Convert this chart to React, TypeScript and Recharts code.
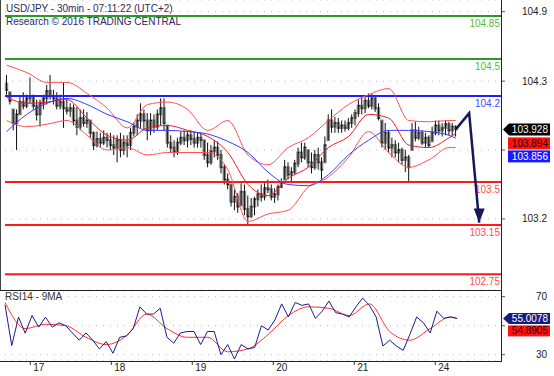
import React from 'react';
import { ComposedChart, Bar, Line, XAxis, YAxis, CartesianGrid, ReferenceLine } from 'recharts';

const FONT = '"Liberation Sans", Arial, sans-serif';

// ---------- data ----------
const highs = [104.37,104.23,104.09,104.09,104.19,104.23,104.21,104.35,104.21,104.17,
104.17,104.21,104.29,104.37,104.25,104.23,104.21,104.31,104.17,104.14,
104.13,104.11,104.09,104.09,104.07,104.00,103.91,103.91,103.90,103.92,
103.90,103.90,103.88,103.88,103.90,103.88,103.88,103.94,103.98,104.05,
104.14,104.09,104.06,104.06,104.05,104.09,104.18,104.18,103.96,103.88,
103.84,103.86,103.91,103.92,103.91,103.92,103.91,103.90,103.90,103.84,
103.82,103.80,103.84,103.83,103.76,103.64,103.57,103.48,103.44,103.41,
103.49,103.48,103.39,103.37,103.38,103.44,103.48,103.49,103.52,103.48,
103.45,103.48,103.53,103.68,103.66,103.62,103.68,103.78,103.82,103.82,
103.76,103.74,103.76,103.78,103.70,103.87,104.05,104.09,104.03,104.02,
104.00,104.00,104.02,104.05,104.09,104.17,104.19,104.19,104.22,104.22,
104.19,104.14,104.00,103.98,103.92,103.86,103.84,103.82,103.78,103.76,
103.72,103.98,103.99,103.95,103.92,103.90,103.88,103.95,104.00,104.00,
103.98,104.00,103.99,103.98,103.96];

const lows = [104.21,104.13,103.92,103.76,104.05,104.09,104.10,104.14,104.09,104.00,
103.95,104.09,104.13,104.17,104.13,104.09,104.09,103.94,104.05,104.03,
103.96,103.88,103.92,103.95,103.94,103.86,103.76,103.78,103.78,103.80,
103.78,103.76,103.72,103.66,103.70,103.72,103.70,103.76,103.87,103.88,
103.94,103.92,103.84,103.88,103.90,103.92,103.96,103.92,103.78,103.74,
103.70,103.72,103.80,103.80,103.78,103.80,103.78,103.78,103.78,103.68,
103.62,103.64,103.70,103.68,103.57,103.48,103.44,103.30,103.27,103.25,
103.31,103.23,103.15,103.21,103.23,103.30,103.34,103.35,103.41,103.35,
103.33,103.35,103.45,103.52,103.52,103.49,103.56,103.62,103.66,103.68,
103.62,103.57,103.60,103.60,103.52,103.66,103.84,103.90,103.90,103.90,
103.90,103.91,103.92,103.94,103.96,104.03,104.05,104.06,104.10,104.09,
104.07,104.00,103.78,103.76,103.74,103.70,103.70,103.66,103.64,103.58,
103.50,103.76,103.83,103.84,103.80,103.78,103.78,103.83,103.88,103.88,
103.87,103.88,103.88,103.88,103.87];

const opens = [104.30,104.23,104.09,103.98,104.05,104.15,104.12,104.18,104.20,104.12,
104.05,104.14,104.18,104.24,104.20,104.18,104.12,104.15,104.10,104.08,
104.10,104.00,103.95,104.02,103.98,104.00,103.90,103.80,103.85,103.82,
103.86,103.84,103.80,103.78,103.84,103.76,103.82,103.80,103.90,103.95,
104.00,104.05,104.00,103.92,104.00,103.95,104.05,104.10,103.96,103.82,
103.78,103.75,103.82,103.86,103.84,103.88,103.85,103.82,103.86,103.84,
103.72,103.66,103.75,103.78,103.72,103.62,103.52,103.48,103.34,103.38,
103.31,103.42,103.28,103.22,103.30,103.36,103.40,103.38,103.45,103.44,
103.38,103.40,103.46,103.52,103.62,103.56,103.58,103.65,103.74,103.70,
103.76,103.66,103.62,103.72,103.66,103.66,103.84,104.00,103.95,103.98,
103.94,103.96,103.94,103.98,104.02,104.06,104.12,104.10,104.16,104.12,
104.18,104.10,104.00,103.82,103.90,103.78,103.80,103.74,103.76,103.68,
103.70,103.76,103.92,103.86,103.90,103.82,103.86,103.83,103.90,103.96,
103.92,103.94,103.97,103.92,103.95];

const closes = [104.25,104.16,103.98,104.05,104.15,104.12,104.18,104.20,104.12,104.05,
104.14,104.18,104.24,104.20,104.18,104.12,104.15,104.10,104.08,104.10,
104.00,103.95,104.02,103.98,104.00,103.90,103.80,103.85,103.82,103.86,
103.84,103.80,103.78,103.84,103.76,103.82,103.80,103.90,103.95,104.00,
104.05,104.00,103.92,104.00,103.95,104.05,104.10,103.98,103.82,103.78,
103.75,103.82,103.86,103.84,103.88,103.85,103.82,103.86,103.84,103.72,
103.66,103.75,103.78,103.72,103.62,103.52,103.48,103.34,103.38,103.30,
103.42,103.28,103.22,103.30,103.36,103.40,103.38,103.45,103.44,103.38,
103.40,103.46,103.50,103.62,103.56,103.58,103.65,103.74,103.70,103.78,
103.66,103.62,103.72,103.66,103.60,103.80,104.00,103.95,103.98,103.94,
103.96,103.94,103.98,104.02,104.06,104.12,104.10,104.16,104.12,104.18,
104.10,104.02,103.82,103.90,103.78,103.80,103.74,103.76,103.68,103.70,
103.62,103.92,103.86,103.90,103.82,103.86,103.80,103.90,103.96,103.92,
103.94,103.97,103.92,103.95,103.928];

const bandIndex = [0,6,12,18,24,30,36,42,48,54,60,66,72,78,84,90,96,102,108,114,120,126,132,134];
const bbUpper = [104.45,104.39,104.31,104.31,104.22,104.10,103.94,104.13,104.15,104.09,103.92,104.00,103.72,103.64,103.78,103.86,104.00,104.13,104.21,104.26,104.00,103.99,104.00,104.00];
const bbMiddle = [104.19,104.14,104.15,104.17,104.02,103.88,103.84,103.94,103.96,103.92,103.87,103.74,103.48,103.39,103.53,103.62,103.78,103.87,104.05,104.02,103.80,103.78,103.86,103.894];
const bbLower = [104.00,103.95,103.97,104.00,103.88,103.76,103.78,103.72,103.74,103.74,103.74,103.60,103.18,103.24,103.27,103.46,103.54,103.70,103.91,103.74,103.62,103.68,103.78,103.78];
const longMA = [103.91,104.05,104.14,104.18,104.13,104.05,103.99,103.92,103.92,103.91,103.89,103.83,103.74,103.58,103.48,103.47,103.56,103.72,103.84,103.92,103.92,103.91,103.88,103.856];

const rsi = [64.4,36.3,55.9,44.8,57,49,55.9,49,52,50,
45,40,45,40,34,39,31,42,43,48,
63,58,58,62,42,38,45,46,46,37,
46,46,30,37,27,37,34,35,50,47,
54,65,56,66,64,65,55,60,67,59,
58,56,63,69,64,56,36,40,36,33,
44,56,52,45,60,55,56,55.0078];
const rsiMA = [66,48,51,50,42,37,43,58,48,42,42,32,34,44,57,63,62,57,65,46,40,48,56,54.8905];

const arrowIndex = [134, 138, 141];
const arrowPath = [103.928, 104.06, 103.17];

const resistanceLevels = [104.85, 104.5];
const pivotLevel = 104.2;
const supportLevels = [103.5, 103.15, 102.75];

const dayStartIndex = [8, 32, 56, 80, 104, 128];
const dayLabels = ['17', '18', '19', '20', '21', '24'];

const priceTicks = [104.885, 104.32, 103.76, 103.2];
const priceTickLabels = ['104.9', '104.3', '', '103.2'];
const rsiTicks = [30, 50, 70];
const rsiTickLabels = ['30', '', '70'];

const lastPrice = 103.928;
const lastMid = 103.894;
const lastMA = 103.856;
const lastRSI = 55.0078;
const lastRSIMA = 54.8905;

// ---------- table ----------
const SLOTS = 148;
const data: any[] = [];
for (let i = 0; i < SLOTS; i++) data.push({ i });
closes.forEach((c, k) => {
  data[k].range = [lows[k], highs[k]];
  data[k].h = highs[k];
  data[k].l = lows[k];
  data[k].o = opens[k];
  data[k].c = c;
});
bandIndex.forEach((ix, k) => {
  data[ix].up = bbUpper[k];
  data[ix].mid = bbMiddle[k];
  data[ix].low = bbLower[k];
  data[ix].ma = longMA[k];
  data[ix].rsima = rsiMA[k];
});
rsi.forEach((v, k) => {
  data[k * 2].rsi = v;
});
arrowIndex.forEach((ix, k) => {
  data[ix].arrow = arrowPath[k];
});

const LEFT = 5;
const AXIS_W = 53;
const BAND = (554 - AXIS_W - LEFT) / SLOTS;

// ---------- shapes ----------
const Candle = (props: any) => {
  const { x, y, width, height, payload } = props;
  if (!payload || payload.h == null || x == null) return <g />;
  const cx = x + width / 2;
  const top = Math.min(y, y + height);
  const h = Math.abs(height);
  const span = payload.h - payload.l || 1;
  const yO = top + ((payload.h - payload.o) / span) * h;
  const yC = top + ((payload.h - payload.c) / span) * h;
  return (
    <g>
      <rect x={cx - 1.75} y={Math.min(yO, yC) - 1} width={3.5} height={Math.max(2, Math.abs(yO - yC) + 2)} fill="#8a8a8a" />
      <line x1={cx} x2={cx} y1={top} y2={top + h} stroke="#111" strokeWidth={1} />
      <line x1={cx} x2={cx + 1.6} y1={yC} y2={yC} stroke="#111" strokeWidth={1} />
    </g>
  );
};

const ArrowDot = (props: any) => {
  const { cx, cy, payload } = props;
  if (!payload || payload.i !== arrowIndex[arrowIndex.length - 1] || cy == null) return <g />;
  return <polygon points={`${cx},${cy} ${cx - 5.5},${cy - 14} ${cx + 5.5},${cy - 14}`} fill="#17175a" />;
};

const LevelLabel = (props: any) => {
  const { viewBox, text, color } = props;
  if (!viewBox) return <g />;
  const right = viewBox.x + viewBox.width;
  return (
    <text x={right - 1} y={viewBox.y + 11} textAnchor="end" fill={color} fontSize={10} fontFamily={FONT}>
      {text}
    </text>
  );
};

const PriceTags = (props: any) => {
  const { viewBox } = props;
  if (!viewBox) return <g />;
  const ax = viewBox.x + viewBox.width;
  const cy = viewBox.y;
  return (
    <g fontFamily={FONT} fontSize={10}>
      <polygon points={`${ax + 2},${cy} ${ax + 8},${cy - 6} ${ax + 49},${cy - 6} ${ax + 49},${cy + 6} ${ax + 8},${cy + 6}`} fill="#000" />
      <text x={ax + 47} y={cy + 3.5} textAnchor="end" fill="#fff">{lastPrice.toFixed(3)}</text>
      <rect x={ax + 7} y={cy + 8} width={42} height={12} fill="#ff1111" />
      <text x={ax + 47} y={cy + 17.5} textAnchor="end" fill="#2a0000">{lastMid.toFixed(3)}</text>
      <rect x={ax + 7} y={cy + 21} width={42} height={12} fill="#1a1aff" />
      <text x={ax + 47} y={cy + 30.5} textAnchor="end" fill="#fff">{lastMA.toFixed(3)}</text>
    </g>
  );
};

const RsiTags = (props: any) => {
  const { viewBox } = props;
  if (!viewBox) return <g />;
  const ax = viewBox.x + viewBox.width;
  const cy = viewBox.y;
  return (
    <g fontFamily={FONT} fontSize={10}>
      <polygon points={`${ax + 2},${cy} ${ax + 8},${cy - 5.5} ${ax + 49},${cy - 5.5} ${ax + 49},${cy + 5.5} ${ax + 8},${cy + 5.5}`} fill="#1a1a80" />
      <text x={ax + 47} y={cy + 3.5} textAnchor="end" fill="#fff">{lastRSI.toFixed(4)}</text>
      <rect x={ax + 7} y={cy + 7} width={42} height={11} fill="#ff1111" />
      <text x={ax + 47} y={cy + 16} textAnchor="end" fill="#2a0000">{lastRSIMA.toFixed(4)}</text>
    </g>
  );
};

const makeYTick = (ticks: number[], labels: string[]) => (props: any) => {
  const { x, y, payload } = props;
  const ax = x - 4;
  const k = ticks.indexOf(payload.value);
  const label = k >= 0 ? labels[k] : '';
  return (
    <g>
      <line x1={ax} x2={ax + 4} y1={y} y2={y} stroke="#555" />
      {label ? (
        <text x={ax + 46} y={y + 3.5} textAnchor="end" fill="#222" fontSize={10} fontFamily={FONT}>
          {label}
        </text>
      ) : null}
    </g>
  );
};
const PriceTick = makeYTick(priceTicks, priceTickLabels);
const RsiTick = makeYTick(rsiTicks, rsiTickLabels);

const DayTick = (props: any) => {
  const { x, y, payload } = props;
  const k = dayStartIndex.indexOf(payload.value);
  const bx = x - BAND / 2;
  return (
    <g>
      <line x1={bx} x2={bx} y1={y - 3} y2={y} stroke="#333" />
      <text x={bx + 3} y={y + 6} fill="#222" fontSize={10} fontFamily={FONT}>
        {k >= 0 ? dayLabels[k] : ''}
      </text>
    </g>
  );
};

const GREEN = '#2a9a2a';
const RED = '#ff1a1a';
const BLUE = '#2020ff';

export default function App() {
  return (
    <div style={{ position: 'absolute', left: 0, top: 0, width: 554, height: 376, background: '#fff', overflow: 'hidden' }}>
      <div style={{ position: 'absolute', left: 0, top: 0 }}>
        <ComposedChart width={554} height={290} data={data} margin={{ top: 0, right: 0, bottom: 0, left: LEFT }}>
          <CartesianGrid horizontal vertical={false} stroke="#b8b8b8" strokeDasharray="1 6" />
          <XAxis dataKey="i" type="category" hide />
          <YAxis
            orientation="right"
            width={AXIS_W}
            type="number"
            domain={[102.622, 104.98]}
            allowDataOverflow
            ticks={priceTicks}
            interval={0}
            tickSize={4}
            tickMargin={0}
            tickLine={false}
            axisLine={false}
            tick={<PriceTick />}
          />
          {resistanceLevels.map((v) => (
            <ReferenceLine key={'r' + v} y={v} stroke={GREEN} strokeWidth={2} label={<LevelLabel text={String(v)} color="#5cb82e" />} />
          ))}
          <ReferenceLine y={pivotLevel} stroke={BLUE} strokeWidth={2} label={<LevelLabel text={String(pivotLevel)} color="#4a4aff" />} />
          {supportLevels.map((v) => (
            <ReferenceLine key={'s' + v} y={v} stroke={RED} strokeWidth={2} label={<LevelLabel text={String(v)} color="#ff4d4d" />} />
          ))}
          <Bar dataKey="range" shape={<Candle />} isAnimationActive={false} barSize={3} />
          <Line dataKey="up" type="monotone" stroke="#ff5050" strokeWidth={1} dot={false} connectNulls isAnimationActive={false} />
          <Line dataKey="mid" type="monotone" stroke="#ee1c1c" strokeWidth={1} dot={false} connectNulls isAnimationActive={false} />
          <Line dataKey="low" type="monotone" stroke="#ff5050" strokeWidth={1} dot={false} connectNulls isAnimationActive={false} />
          <Line dataKey="ma" type="monotone" stroke="#3a3aff" strokeWidth={1} dot={false} connectNulls isAnimationActive={false} />
          <Line dataKey="arrow" type="linear" stroke="#17175a" strokeWidth={2.5} dot={<ArrowDot />} activeDot={false} connectNulls isAnimationActive={false} />
          <ReferenceLine y={lastPrice} stroke="none" label={<PriceTags />} />
        </ComposedChart>
      </div>
      <div style={{ position: 'absolute', left: 0, top: 290 }}>
        <ComposedChart width={554} height={86} data={data} margin={{ top: 0, right: 0, bottom: 0, left: LEFT }}>
          <CartesianGrid horizontal vertical={false} stroke="#b8b8b8" strokeDasharray="1 6" />
          <XAxis
            dataKey="i"
            type="category"
            height={15}
            ticks={dayStartIndex}
            interval={0}
            tickSize={4}
            tickMargin={0}
            tickLine={false}
            axisLine={false}
            tick={<DayTick />}
          />
          <YAxis
            orientation="right"
            width={AXIS_W}
            type="number"
            domain={[25.66, 74.6]}
            allowDataOverflow
            ticks={rsiTicks}
            interval={0}
            tickSize={4}
            tickMargin={0}
            tickLine={false}
            axisLine={false}
            tick={<RsiTick />}
          />
          <Line dataKey="rsima" type="monotone" stroke="#ff3030" strokeWidth={1} dot={false} connectNulls isAnimationActive={false} />
          <Line dataKey="rsi" type="linear" stroke="#1c1c8c" strokeWidth={1} dot={false} connectNulls isAnimationActive={false} />
          <ReferenceLine y={lastRSI} stroke="none" label={<RsiTags />} />
        </ComposedChart>
      </div>
      <svg width={554} height={376} style={{ position: 'absolute', left: 0, top: 0, pointerEvents: 'none' }}>
        <line x1={0.5} x2={0.5} y1={0} y2={290} stroke="#444" />
        <line x1={501.5} x2={501.5} y1={0} y2={362} stroke="#222" />
        <line x1={0} x2={502} y1={290.5} y2={290.5} stroke="#222" />
        <line x1={0} x2={502} y1={361.5} y2={361.5} stroke="#222" />
        <text x={6} y={12} fontSize={10} fontFamily={FONT} fill="#2f2860">USD/JPY - 30min - 07:11:22 (UTC+2)</text>
        <text x={6} y={25} fontSize={10} fontFamily={FONT} fill="#2f2860">Research © 2016 TRADING CENTRAL</text>
        <text x={5} y={300} fontSize={10} fontFamily={FONT} fill="#333">RSI14 - 9MA</text>
      </svg>
    </div>
  );
}
